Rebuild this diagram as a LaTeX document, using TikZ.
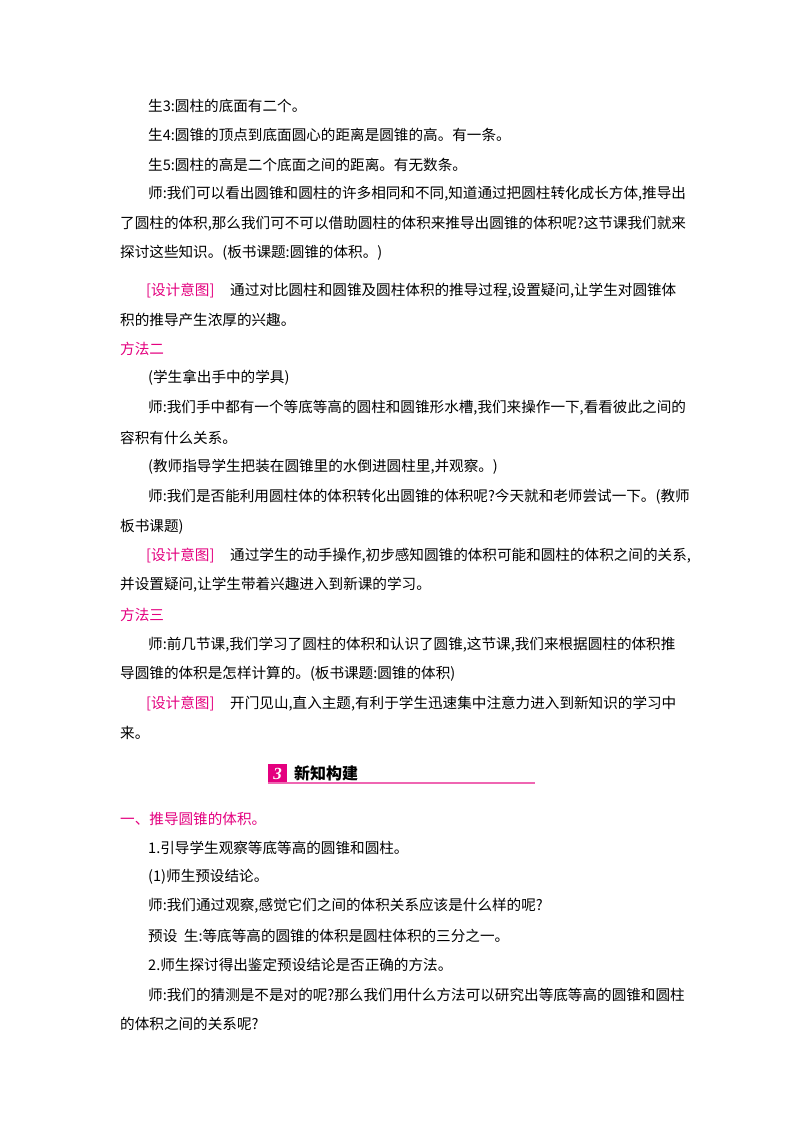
\documentclass[tikz,border=0pt]{standalone}
\usepackage{fontspec}
\setmainfont{Liberation Serif}
\newfontfamily\cjk{Noto Sans CJK SC}
\definecolor{pk}{RGB}{228,0,127}
\begin{document}
\begin{tikzpicture}[x=1pt,y=-1pt,
  t/.style={anchor=west,inner sep=0pt,font=\cjk\fontsize{14.6}{16}\selectfont},
  p/.style={t,text=pk}]
\useasboundingbox (0,0) rectangle (800,1132);
\fill[white] (0,0) rectangle (800,1132);
\node[t] (l1) at (148,106) {生3:圆柱的底面有二个。};
\node[t] (l2) at (148,135) {生4:圆锥的顶点到底面圆心的距离是圆锥的高。有一条。};
\node[t] (l3) at (148,165) {生5:圆柱的高是二个底面之间的距离。有无数条。};
\node[t] (l4) at (148,194) {师:我们可以看出圆锥和圆柱的许多相同和不同,知道通过把圆柱转化成长方体,推导出};
\node[t] (l5) at (120,224) {了圆柱的体积,那么我们可不可以借助圆柱的体积来推导出圆锥的体积呢?这节课我们就来};
\node[t] (l6) at (120,253) {探讨这些知识。(板书课题:圆锥的体积。)};
\node[p] (d1) at (146,291) {[设计意图]};
\node[t] (l7) at (230,291) {通过对比圆柱和圆锥及圆柱体积的推导过程,设置疑问,让学生对圆锥体};
\node[t] (l8) at (120,320) {积的推导产生浓厚的兴趣。};
\node[p] (m2) at (120,349) {方法二};
\node[t] (l9) at (148,378) {(学生拿出手中的学具)};
\node[t] (l10) at (148,408) {师:我们手中都有一个等底等高的圆柱和圆锥形水槽,我们来操作一下,看看彼此之间的};
\node[t] (l11) at (120,438) {容积有什么关系。};
\node[t] (l12) at (148,467) {(教师指导学生把装在圆锥里的水倒进圆柱里,并观察。)};
\node[t] (l13) at (148,497) {师:我们是否能利用圆柱体的体积转化出圆锥的体积呢?今天就和老师尝试一下。(教师};
\node[t] (l14) at (120,527) {板书课题)};
\node[p] (d2) at (146,556) {[设计意图]};
\node[t] (l15) at (230,556) {通过学生的动手操作,初步感知圆锥的体积可能和圆柱的体积之间的关系,};
\node[t] (l16) at (120,585) {并设置疑问,让学生带着兴趣进入到新课的学习。};
\node[p] (m3) at (120,615) {方法三};
\node[t] (l17) at (148,645) {师:前几节课,我们学习了圆柱的体积和认识了圆锥,这节课,我们来根据圆柱的体积推};
\node[t] (l18) at (120,674) {导圆锥的体积是怎样计算的。(板书课题:圆锥的体积)};
\node[p] (d3) at (146,704) {[设计意图]};
\node[t] (l19) at (230,704) {开门见山,直入主题,有利于学生迅速集中注意力进入到新知识的学习中};
\node[t] (l20) at (120,733) {来。};
% header
\fill[pk] (268,764) rectangle (287,783);
\node[anchor=center,inner sep=0pt,text=white,font=\bfseries\itshape\fontsize{17}{17}\selectfont] (n3) at (277.5,773.5) {3};
\node[t,font=\cjk\bfseries\fontsize{16}{18}\selectfont] (h) at (294,773) {新知构建};
\draw[pk!60,line width=1.2pt] (268,783) -- (535,783);
\node[p] (s1) at (120,819) {一、推导圆锥的体积。};
\node[t] (l21) at (148,848) {1.引导学生观察等底等高的圆锥和圆柱。};
\node[t] (l22) at (148,877) {(1)师生预设结论。};
\node[t] (l23) at (148,906) {师:我们通过观察,感觉它们之间的体积关系应该是什么样的呢?};
\node[t] (l24) at (148,936) {预设\ \ 生:等底等高的圆锥的体积是圆柱体积的三分之一。};
\node[t] (l25) at (148,965) {2.师生探讨得出鉴定预设结论是否正确的方法。};
\node[t] (l26) at (148,995) {师:我们的猜测是不是对的呢?那么我们用什么方法可以研究出等底等高的圆锥和圆柱};
\node[t] (l27) at (120,1024) {的体积之间的关系呢?};
\end{tikzpicture}
\end{document}
